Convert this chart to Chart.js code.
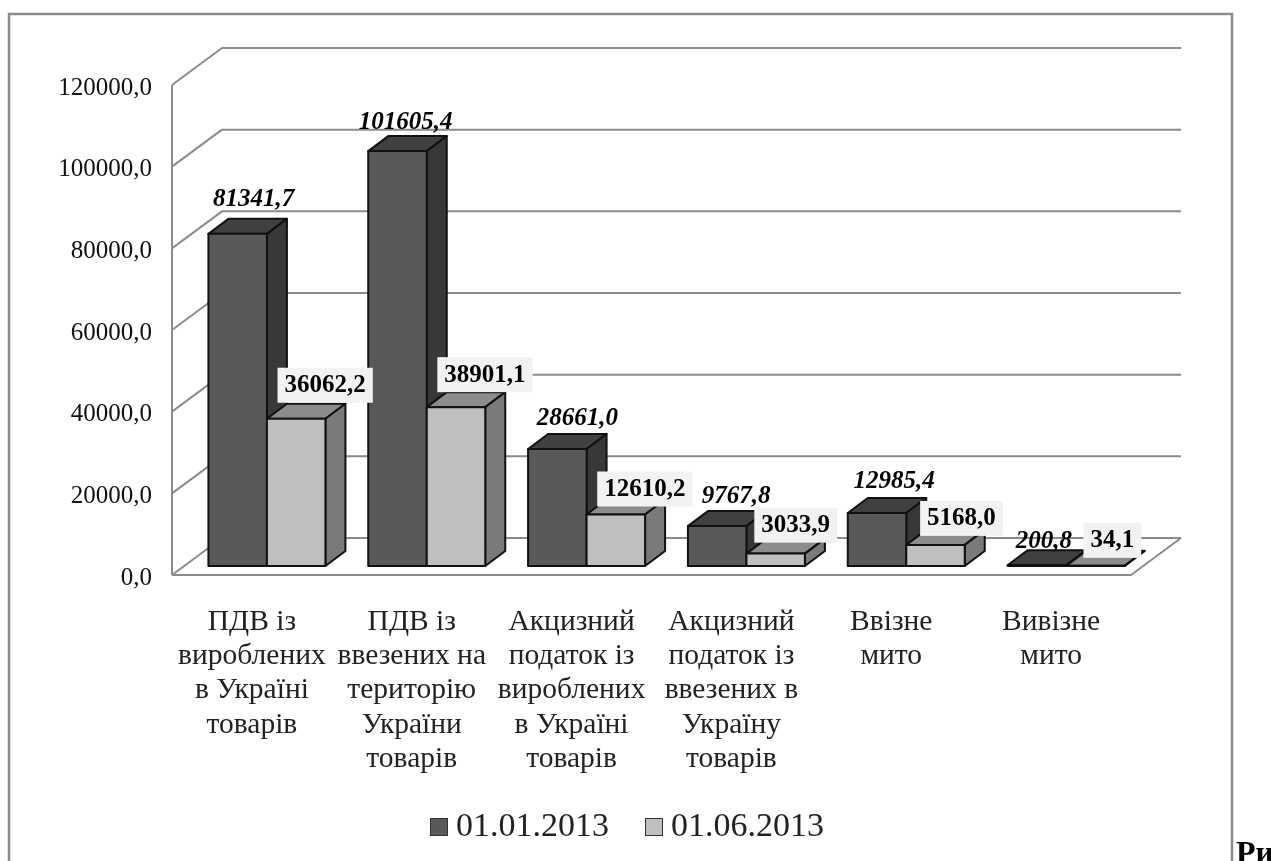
<!DOCTYPE html>
<html lang="uk">
<head>
<meta charset="utf-8">
<title>Податкові надходження</title>
<style>
  html, body { margin: 0; padding: 0; background: #fff; overflow: hidden; }
  canvas { display: block; }
</style>
</head>
<body>
<canvas id="chart" width="1271" height="861"></canvas>
<script src="https://cdn.jsdelivr.net/npm/chart.js@4/dist/chart.umd.js"></script>
<script>
var CATEGORIES = [
  ["ПДВ із", "вироблених", "в Україні", "товарів"],
  ["ПДВ із", "ввезених на", "територію", "України", "товарів"],
  ["Акцизний", "податок із", "вироблених", "в Україні", "товарів"],
  ["Акцизний", "податок із", "ввезених в", "Україну", "товарів"],
  ["Ввізне", "мито"],
  ["Вивізне", "мито"]
];
var SERIES_NAMES = ["01.01.2013", "01.06.2013"];
var VALUES_JAN = [81341.7, 101605.4, 28661.0, 9767.8, 12985.4, 200.8];
var VALUES_JUN = [36062.2, 38901.1, 12610.2, 3033.9, 5168.0, 34.1];

var FONT = '"Liberation Serif", "Times New Roman", serif';
var GRID_COLOR = "#8c8c8c";
var DEPTH_WALL = { x: 50, y: -37 };
var DEPTH_BAR = { x: 20, y: -15 };
var BAR_SHIFT = { x: 15, y: -9 };

var FACES = [
  { front: "#595959", top: "#404040", side: "#383838" },
  { front: "#bfbfbf", top: "#8c8c8c", side: "#7a7a7a" }
];

// label nudges from the front-top centre of each bar
var LABEL_NUDGE = [
  [[16, -34], [8, -29], [20, -30], [19, -30], [17, -31], [7, -24]],
  [[29, -33], [29, -32], [29, -25], [20, -28], [26, -26], [17, -25]]
];

function formatValue(value) {
  return Number(value).toFixed(1).replace(".", ",");
}

function poly(ctx, points, fill) {
  ctx.beginPath();
  points.forEach(function (p, i) {
    if (i === 0) ctx.moveTo(p[0], p[1]);
    else ctx.lineTo(p[0], p[1]);
  });
  ctx.closePath();
  ctx.fillStyle = fill;
  ctx.fill();
  ctx.stroke();
}

function line(ctx, points) {
  ctx.beginPath();
  points.forEach(function (p, i) {
    if (i === 0) ctx.moveTo(p[0], p[1]);
    else ctx.lineTo(p[0], p[1]);
  });
  ctx.stroke();
}

// frame, caption and the back wall with its shelves
var wallPlugin = {
  id: "wall",
  beforeDraw: function (chart) {
    var ctx = chart.ctx;
    var area = chart.chartArea;
    var yScale = chart.scales.y;

    ctx.save();
    ctx.fillStyle = "#fff";
    ctx.fillRect(0, 0, chart.width, chart.height);
    ctx.strokeStyle = "#8c8c8c";
    ctx.lineWidth = 2.5;
    line(ctx, [[9, 870], [9, 14], [1232, 14], [1232, 870]]);

    ctx.lineWidth = 2;
    ctx.strokeStyle = GRID_COLOR;
    ctx.lineJoin = "round";
    yScale.ticks.forEach(function (tick) {
      var y = yScale.getPixelForValue(tick.value);
      line(ctx, [
        [area.left, y],
        [area.left + DEPTH_WALL.x, y + DEPTH_WALL.y],
        [area.right + DEPTH_WALL.x, y + DEPTH_WALL.y]
      ]);
    });
    line(ctx, [[area.left, area.top], [area.left, area.bottom]]);
    line(ctx, [
      [area.left, area.bottom],
      [area.right, area.bottom],
      [area.right + DEPTH_WALL.x, area.bottom + DEPTH_WALL.y]
    ]);

    ctx.fillStyle = "#000";
    ctx.font = "bold 32px " + FONT;
    ctx.textAlign = "left";
    ctx.textBaseline = "alphabetic";
    ctx.fillText("Ри", 1236, 863);
    ctx.restore();
  }
};

// extruded bars; the left series goes first so the right one overlaps its side
var barsPlugin = {
  id: "bars3d",
  beforeDatasetsDraw: function (chart) {
    var ctx = chart.ctx;
    [0, 1].forEach(function (index) {
      var faces = FACES[index];
      chart.getDatasetMeta(index).data.forEach(function (bar) {
        var props = bar.getProps(["x", "y", "base", "width"], true);
        var left = props.x - props.width / 2 + BAR_SHIFT.x;
        var right = props.x + props.width / 2 + BAR_SHIFT.x;
        var top = props.y + BAR_SHIFT.y;
        var bottom = props.base + BAR_SHIFT.y;
        var dx = DEPTH_BAR.x;
        var dy = DEPTH_BAR.y;
        ctx.save();
        ctx.strokeStyle = "#111";
        ctx.lineWidth = 2;
        ctx.lineJoin = "round";
        poly(ctx, [[left, top], [left + dx, top + dy], [right + dx, top + dy], [right, top]], faces.top);
        poly(ctx, [[right, top], [right + dx, top + dy], [right + dx, bottom + dy], [right, bottom]], faces.side);
        poly(ctx, [[left, top], [right, top], [right, bottom], [left, bottom]], faces.front);
        ctx.restore();
      });
    });
    return false;
  },
  afterDraw: function (chart) {
    var ctx = chart.ctx;
    ctx.save();
    ctx.textAlign = "center";
    ctx.textBaseline = "middle";
    [0, 1].forEach(function (index) {
      var values = chart.data.datasets[index].data;
      chart.getDatasetMeta(index).data.forEach(function (bar, i) {
        var x = bar.x + BAR_SHIFT.x + LABEL_NUDGE[index][i][0];
        var y = bar.y + BAR_SHIFT.y + LABEL_NUDGE[index][i][1];
        var text = formatValue(values[i]);
        ctx.font = (index === 0 ? "italic bold 25px " : "bold 25px ") + FONT;
        if (index === 1) {
          var w = ctx.measureText(text).width + 14;
          ctx.fillStyle = "#f2f2f2";
          ctx.fillRect(x - w / 2, y - 18, w, 35);
        }
        ctx.fillStyle = "#000";
        ctx.fillText(text, x, y);
      });
    });

    // legend row under the categories
    var swatches = [430, 645];
    ctx.textAlign = "left";
    ctx.font = "34px " + FONT;
    SERIES_NAMES.forEach(function (name, i) {
      ctx.fillStyle = FACES[i].front;
      ctx.strokeStyle = "#333";
      ctx.lineWidth = 1;
      ctx.fillRect(swatches[i], 818, 18, 18);
      ctx.strokeRect(swatches[i] + 0.5, 818.5, 17, 17);
      ctx.fillStyle = "#222";
      ctx.fillText(name, swatches[i] + 26, 827);
    });
    ctx.restore();
  }
};

new Chart(document.getElementById("chart"), {
  type: "bar",
  data: {
    labels: CATEGORIES,
    datasets: [
      { label: SERIES_NAMES[0], data: VALUES_JAN, backgroundColor: FACES[0].front },
      { label: SERIES_NAMES[1], data: VALUES_JUN, backgroundColor: FACES[1].front }
    ]
  },
  plugins: [wallPlugin, barsPlugin],
  options: {
    responsive: false,
    animation: false,
    devicePixelRatio: 1,
    layout: { padding: { top: 85, right: 140, bottom: 0, left: 0 } },
    datasets: { bar: { categoryPercentage: 0.732, barPercentage: 1 } },
    plugins: { legend: { display: false }, tooltip: { enabled: false } },
    scales: {
      x: {
        afterFit: function (scale) { scale.height = 286; },
        grid: { display: false },
        border: { display: false },
        ticks: {
          maxRotation: 0,
          autoSkip: false,
          padding: 22,
          color: "#222",
          font: { family: FONT, size: 29.5, lineHeight: 1.16 }
        }
      },
      y: {
        min: 0,
        max: 120000,
        afterFit: function (scale) { scale.width = 172; },
        grid: { display: false },
        border: { display: false },
        ticks: {
          stepSize: 20000,
          padding: 12,
          labelOffset: 3,
          color: "#111",
          font: { family: FONT, size: 25 },
          callback: function (value) { return formatValue(value); }
        }
      }
    }
  }
});
</script>
</body>
</html>
